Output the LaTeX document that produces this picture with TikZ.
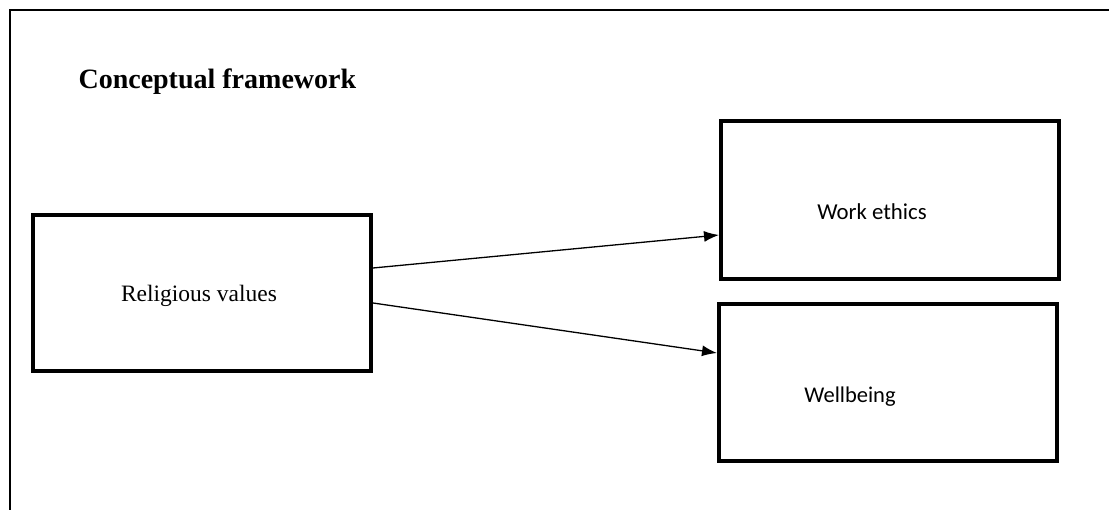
\documentclass[tikz,border=0pt]{standalone}
\usepackage{fontspec}
\setmainfont{Liberation Serif}
\newfontfamily\calibrifont{Carlito}
\usepackage{tikz}
\usetikzlibrary{
  arrows.meta,%
  positioning,%
  calc
}
\tikzset{>={Latex[length=15pt,width=11pt]}}
\tikzset{
  frameline/.style={line width=2pt},
  varbox/.style={draw, line width=4pt, minimum width=338pt, inner sep=0pt},
  link/.style={->, line width=1.3pt}
}

\begin{document}
\begin{tikzpicture}[x=1pt,y=-1pt]
          \useasboundingbox (0,0) rectangle (1109,510);
          % outer frame, only top and left edges show
          \coordinate (ftop) at (1109,10);
          \coordinate (fcorner) at (10,10);
          \coordinate (fbottom) at (10,510);
          \draw[frameline] (ftop) -- (fcorner) -- (fbottom);
          \node[anchor=base west, font=\fontsize{28}{30}\selectfont\bfseries] (title) at (75,89) {Conceptual framework};
          % boxes
          \node[varbox, minimum height=156pt] (relig) at (202,293) {};
          \node[varbox, minimum height=158pt] (work) at (890,200) {};
          \node[varbox, minimum height=157pt] (well) at (888,382.5) {};
          \node[anchor=base, font=\fontsize{23.5}{26}\selectfont] (religtxt) at (199,302) {Religious values};
          \node[anchor=base, font=\calibrifont\fontsize{22.8}{25}\selectfont] (worktxt) at (872,220) {Work ethics};
          \node[anchor=base, font=\calibrifont\fontsize{22.5}{25}\selectfont] (welltxt) at (850,403) {Wellbeing};
          % arrows
          \draw[link] ([yshift=25pt]relig.east) -- ([yshift=-35pt]work.west);
          \draw[link] ([yshift=-10pt]relig.east) -- ([yshift=29.5pt]well.west);
        \end{tikzpicture}
\end{document}
